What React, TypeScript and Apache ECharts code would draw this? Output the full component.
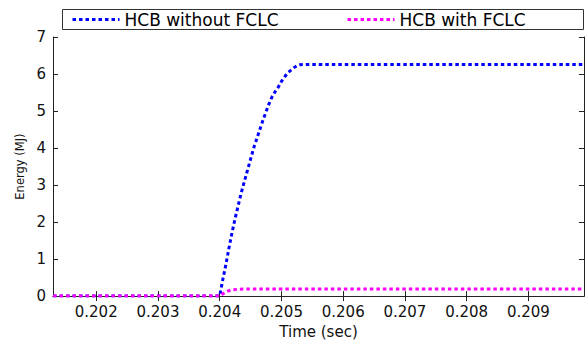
import React, { useEffect, useRef } from "react";
import * as echarts from "echarts";

const seriesNames = ["HCB without FCLC", "HCB with FCLC"];
const xTicks = [0.202, 0.203, 0.204, 0.205, 0.206, 0.207, 0.208, 0.209];

const timeWithout = [
  0.2013, 0.204, 0.20405, 0.2041, 0.20415, 0.2042, 0.20425, 0.2043, 0.20435, 0.2044,
  0.20445, 0.2045, 0.20455, 0.2046, 0.20465, 0.2047, 0.20475, 0.2048, 0.20485, 0.2049,
  0.20495, 0.205, 0.20505, 0.2051, 0.20515, 0.2052, 0.20525, 0.2053, 0.2054, 0.2099,
];
const energyWithout = [
  0, 0, 0.45, 0.85, 1.3, 1.72, 2.1, 2.45, 2.8, 3.1,
  3.4, 3.7, 4.0, 4.25, 4.5, 4.75, 4.98, 5.2, 5.39, 5.53,
  5.65, 5.8, 5.92, 6.03, 6.1, 6.17, 6.22, 6.25, 6.26, 6.26,
];

const timeWith = [0.2013, 0.204, 0.20405, 0.2041, 0.20415, 0.2042, 0.2043, 0.2044, 0.2099];
const energyWith = [0, 0, 0.06, 0.11, 0.145, 0.17, 0.185, 0.19, 0.19];

const FONT = "DejaVu Sans";
const AXIS_COLOR = "#222";
const dash = [3.5, 3];

export default function App() {
  const ref = useRef<HTMLDivElement>(null);

  useEffect(() => {
    document.body.style.margin = "0";
    if (!ref.current) return;
    const chart = echarts.init(ref.current, undefined, { renderer: "svg" });

    const axisBase = {
      type: "value" as const,
      axisLine: { show: true, lineStyle: { color: AXIS_COLOR, width: 1 } },
      splitLine: { show: false },
    };

    const legendBase = {
      top: 11,
      padding: 0,
      itemWidth: 47,
      itemHeight: 14,
      itemGap: 0,
      selectedMode: false,
      textStyle: { fontFamily: FONT, fontSize: 17, color: "#000" },
      itemStyle: { opacity: 0 },
      lineStyle: { width: 3, type: dash },
    };

    chart.setOption({
      animation: false,
      backgroundColor: "#fff",
      grid: { left: 53, right: 3, top: 37, bottom: 37, containLabel: false },
      graphic: [
        {
          type: "rect",
          z: 0,
          shape: { x: 62.5, y: 9.5, width: 521, height: 20 },
          style: { fill: "none", stroke: "#333", lineWidth: 1 },
        },
      ],
      legend: [
        { ...legendBase, left: 71, data: [seriesNames[0]] },
        { ...legendBase, left: 346, data: [seriesNames[1]] },
      ],
      xAxis: [
        {
          ...axisBase,
          position: "bottom",
          min: 0.2013,
          max: 0.2099,
          axisTick: { show: true, inside: true, length: 5, customValues: xTicks, lineStyle: { color: AXIS_COLOR } },
          axisLabel: {
            customValues: xTicks,
            formatter: (v: number) => v.toFixed(3),
            margin: 8,
            fontFamily: FONT,
            fontSize: 15,
            color: "#111",
          },
          name: "Time (sec)",
          nameLocation: "middle",
          nameGap: 19,
          nameTextStyle: { fontFamily: FONT, fontSize: 15, color: "#111" },
        },
        {
          ...axisBase,
          position: "top",
          min: 0.2013,
          max: 0.2099,
          axisTick: { show: true, inside: true, length: 5, customValues: xTicks, lineStyle: { color: AXIS_COLOR } },
          axisLabel: { show: false },
        },
      ],
      yAxis: [
        {
          ...axisBase,
          position: "left",
          min: 0,
          max: 7,
          interval: 1,
          axisTick: { show: true, inside: true, length: 5, lineStyle: { color: AXIS_COLOR } },
          axisLabel: { margin: 7, fontFamily: FONT, fontSize: 15, color: "#111" },
          name: "Energy (MJ)",
          nameLocation: "middle",
          nameGap: 25,
          nameTextStyle: { fontFamily: FONT, fontSize: 11.5, color: "#111" },
        },
        {
          ...axisBase,
          position: "right",
          min: 0,
          max: 7,
          interval: 1,
          axisTick: { show: true, inside: true, length: 5, lineStyle: { color: AXIS_COLOR } },
          axisLabel: { show: false },
        },
      ],
      series: [
        {
          name: seriesNames[0],
          type: "line",
          xAxisIndex: 0,
          yAxisIndex: 0,
          symbol: "none",
          data: timeWithout.map((t, i) => [t, energyWithout[i]]),
          lineStyle: { color: "#0000ff", width: 3, type: dash },
          itemStyle: { color: "#0000ff" },
        },
        {
          name: seriesNames[1],
          type: "line",
          xAxisIndex: 0,
          yAxisIndex: 0,
          symbol: "none",
          data: timeWith.map((t, i) => [t, energyWith[i]]),
          lineStyle: { color: "#ff00ff", width: 3, type: dash },
          itemStyle: { color: "#ff00ff" },
        },
      ],
    });

    return () => chart.dispose();
  }, []);

  return <div ref={ref} style={{ width: 587, height: 344 }} />;
}
